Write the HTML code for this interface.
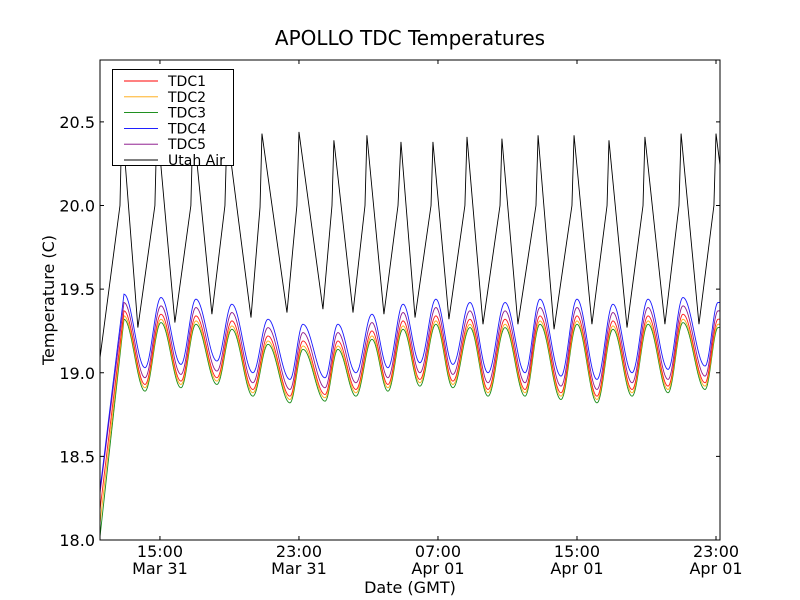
<!DOCTYPE html>
<html><head><meta charset="utf-8"><style>
html,body{margin:0;padding:0;background:#fff;}
svg{display:block;font-family:"DejaVu Sans","Liberation Sans",sans-serif;}
</style></head><body>
<svg id="chart" width="800" height="600" viewBox="0 0 800 600">
<rect x="0" y="0" width="800" height="600" fill="#fff"/>
<text x="410" y="45" font-size="20" text-anchor="middle">APOLLO TDC Temperatures</text>
<g id="plot"></g>
<g id="axes"></g>
<text x="410" y="593" font-size="16" text-anchor="middle">Date (GMT)</text>
<text x="54" y="300" font-size="16" text-anchor="middle" transform="rotate(-90 54 300)">Temperature (C)</text>
</svg>
<script>
const xStart = 11.55, xEnd = 47.23;
const yMin = 18.0, yMax = 20.87;
const yTicks = [18.0, 18.5, 19.0, 19.5, 20.0, 20.5];
const yTickLabels = ["18.0", "18.5", "19.0", "19.5", "20.0", "20.5"];
const xTicks = [15, 23, 31, 39, 47];
const xTickLabels = [["15:00","Mar 31"],["23:00","Mar 31"],["07:00","Apr 01"],["15:00","Apr 01"],["23:00","Apr 01"]];

const peakTimes = [12.93,15.06,17.07,19.14,21.22,23.23,25.24,27.20,28.99,30.88,32.84,34.86,36.87,39.00,41.07,43.09,45.10,47.12];
const minTimes = [14.14,16.21,18.28,20.35,22.48,24.50,26.28,28.12,29.96,31.86,33.88,36.01,38.08,40.15,42.17,44.24,46.37];

const tdc4Peaks = [19.47,19.45,19.44,19.41,19.32,19.29,19.29,19.35,19.41,19.44,19.42,19.42,19.44,19.44,19.41,19.44,19.45,19.42];
const tdc4Mins = [19.03,19.05,19.07,19.00,18.96,18.97,19.00,19.03,19.06,19.05,19.00,19.00,18.98,18.96,19.00,19.02,19.04];
const tdc5Peaks = [19.42,19.40,19.39,19.36,19.27,19.24,19.24,19.30,19.36,19.39,19.37,19.37,19.39,19.39,19.36,19.39,19.40,19.37];
const tdc5Mins = [18.97,18.99,19.01,18.94,18.90,18.91,18.94,18.97,19.00,18.99,18.94,18.94,18.92,18.90,18.94,18.96,18.98];
const tdc1Peaks = [19.37,19.35,19.34,19.31,19.22,19.19,19.19,19.25,19.31,19.34,19.32,19.32,19.34,19.34,19.31,19.34,19.35,19.32];
const tdc1Mins = [18.93,18.95,18.97,18.90,18.86,18.87,18.90,18.93,18.96,18.95,18.90,18.90,18.88,18.86,18.90,18.92,18.94];
const tdc2Peaks = [19.34,19.32,19.31,19.28,19.19,19.16,19.16,19.22,19.28,19.31,19.29,19.29,19.31,19.31,19.28,19.31,19.32,19.29];
const tdc2Mins = [18.91,18.93,18.95,18.88,18.84,18.85,18.88,18.91,18.94,18.93,18.88,18.88,18.86,18.84,18.88,18.90,18.92];
const tdc3Peaks = [19.32,19.30,19.29,19.26,19.17,19.14,19.14,19.20,19.26,19.29,19.27,19.27,19.29,19.29,19.26,19.29,19.30,19.27];
const tdc3Mins = [18.89,18.91,18.93,18.86,18.82,18.83,18.86,18.89,18.92,18.91,18.86,18.86,18.84,18.82,18.86,18.88,18.90];
const tdcStart = {tdc1:18.18, tdc2:18.10, tdc3:18.02, tdc4:18.30, tdc5:18.28};

const airTimes = [11.55,12.70,12.81,13.73,14.71,14.83,15.86,16.78,16.90,17.99,18.74,18.86,20.24,20.76,20.87,22.31,22.88,23.00,24.38,24.90,25.01,26.11,26.80,26.91,27.89,28.70,28.87,29.68,30.60,30.71,31.63,32.55,32.67,33.59,34.57,34.68,35.60,36.64,36.76,37.68,38.71,38.83,39.86,40.73,40.84,41.88,42.80,42.91,44.06,44.87,44.99,46.02,46.88,47.00,47.23];
const airValues = [19.09,20.00,20.51,19.27,20.00,20.50,19.30,20.00,20.50,19.35,20.00,20.45,19.33,19.99,20.43,19.36,20.00,20.44,19.38,20.00,20.39,19.36,20.00,20.42,19.35,20.00,20.38,19.33,20.00,20.38,19.32,20.00,20.41,19.29,20.00,20.40,19.29,20.00,20.42,19.26,20.00,20.42,19.29,20.00,20.39,19.27,20.00,20.41,19.29,20.00,20.43,19.29,20.00,20.43,20.24];

const L = 100, R = 720, T = 60, B = 540;
const NS = "http://www.w3.org/2000/svg";
function xs(h){ return L + (h - xStart) / (xEnd - xStart) * (R - L); }
function ys(v){ return B - (v - yMin) / (yMax - yMin) * (B - T); }
function mk(tag, attrs, parent){ const e = document.createElementNS(NS, tag); for (const k in attrs) e.setAttribute(k, attrs[k]); parent.appendChild(e); return e; }

const plot = document.getElementById('plot');
const axes = document.getElementById('axes');

const clip = mk('clipPath', {id:'clipArea'}, plot);
mk('rect', {x:L, y:T, width:R-L, height:B-T}, clip);
const lines = mk('g', {'clip-path':'url(#clipArea)'}, plot);



function tdcPath(start, peaks, mins){
  const kt = [xStart], kv = [start];
  for (let i = 0; i < peakTimes.length; i++){
    kt.push(peakTimes[i]); kv.push(peaks[i]);
    if (i < minTimes.length){ kt.push(minTimes[i]); kv.push(mins[i]); }
  }
  kt.push(xEnd); kv.push(peaks[peaks.length-1]);
  let d = '';
  for (let s = 0; s < kt.length - 1; s++){
    const n = 24;
    for (let j = 0; j <= n; j++){
      if (s > 0 && j === 0) continue;
      const f = j / n;
      const w = s === 0 ? f : (1 - Math.cos(Math.PI * f)) / 2;
      const t = kt[s] + (kt[s+1] - kt[s]) * f;
      const v = kv[s] + (kv[s+1] - kv[s]) * w;
      d += (d ? 'L' : 'M') + xs(t).toFixed(2) + ',' + ys(v).toFixed(2);
    }
  }
  return d;
}

const seriesDefs = [
  {name:'tdc3', color:'#008000', peaks:tdc3Peaks, mins:tdc3Mins},
  {name:'tdc2', color:'#ffa500', peaks:tdc2Peaks, mins:tdc2Mins},
  {name:'tdc1', color:'#ff0000', peaks:tdc1Peaks, mins:tdc1Mins},
  {name:'tdc5', color:'#800080', peaks:tdc5Peaks, mins:tdc5Mins},
  {name:'tdc4', color:'#0000ff', peaks:tdc4Peaks, mins:tdc4Mins}
];
seriesDefs.forEach(s => {
  const p = mk('path', {d:tdcPath(tdcStart[s.name], s.peaks, s.mins), fill:'none', stroke:s.color, 'stroke-width':0.9, opacity:0.9}, lines);
  
  
});
let ad = '';
airTimes.forEach((t, i) => { ad += (i ? 'L' : 'M') + xs(t).toFixed(2) + ',' + ys(airValues[i]).toFixed(2); });
const air = mk('path', {d:ad, fill:'none', stroke:'#000', 'stroke-width':0.9}, lines);



const frame = mk('rect', {x:L, y:T, width:R-L, height:B-T, fill:'none', stroke:'#000', 'stroke-width':1}, axes);



yTicks.forEach((v, i) => {
  const y = ys(v);
  mk('line', {x1:L, x2:L+4, y1:y, y2:y, stroke:'#000'}, axes);
  mk('line', {x1:R-4, x2:R, y1:y, y2:y, stroke:'#000'}, axes);
  const t = mk('text', {x:L-5, y:y+6, 'font-size':16, 'text-anchor':'end'}, axes);
  t.textContent = yTickLabels[i];
  
  
});
xTicks.forEach((h, i) => {
  const x = xs(h);
  mk('line', {x1:x, x2:x, y1:B, y2:B-4, stroke:'#000'}, axes);
  mk('line', {x1:x, x2:x, y1:T, y2:T+4, stroke:'#000'}, axes);
  const t1 = mk('text', {x:x, y:B+17, 'font-size':16, 'text-anchor':'middle'}, axes);
  t1.textContent = xTickLabels[i][0];
  
  
  const t2 = mk('text', {x:x, y:B+34, 'font-size':16, 'text-anchor':'middle'}, axes);
  t2.textContent = xTickLabels[i][1];
  
  
});

const lg = mk('g', {}, axes);


mk('rect', {x:112.5, y:69.5, width:121, height:96, fill:'#fff', stroke:'#000', 'stroke-width':1}, lg);
const legendItems = [['TDC1','#ff0000'],['TDC2','#ffa500'],['TDC3','#008000'],['TDC4','#0000ff'],['TDC5','#800080'],['Utah Air','#000']];
legendItems.forEach((it, i) => {
  const y = 81 + i * 15.8;
  const ln = mk('line', {x1:124, x2:158, y1:y, y2:y, stroke:it[1], 'stroke-width':0.9}, lg);
  
  
  const tx = mk('text', {x:168, y:y+5, 'font-size':14}, lg);
  tx.textContent = it[0];
  
  
});
</script>
</body></html>
